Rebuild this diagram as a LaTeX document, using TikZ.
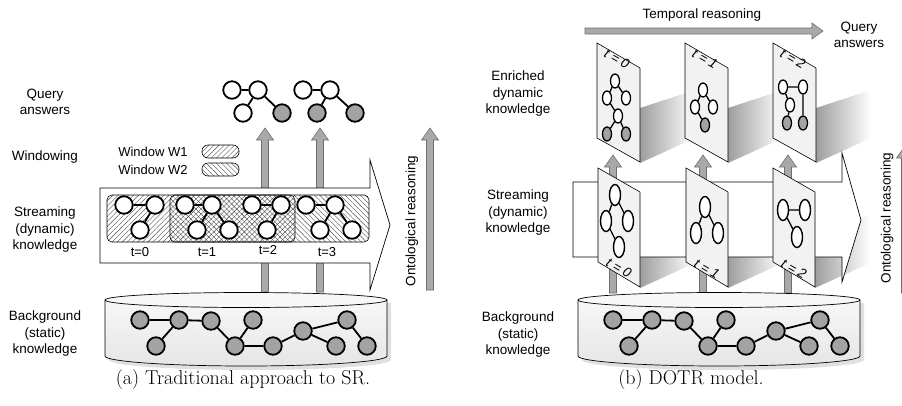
\documentclass[tikz,border=0pt]{standalone}
\usepackage{fontspec}
\newfontfamily\sansf{Liberation Sans}
\usetikzlibrary{shapes.geometric,patterns,patterns.meta}
\definecolor{nodegray}{HTML}{A3A3A3}
\definecolor{arrgray}{HTML}{A9A9A9}
\definecolor{arredge}{HTML}{6E6E6E}
\definecolor{planefill}{HTML}{F2F2F2}
\tikzset{
  lbl/.style={font=\sansf\fontsize{13.5}{16.5}\selectfont, align=center, inner sep=0},
  small/.style={font=\sansf\fontsize{13}{15}\selectfont, inner sep=0},
  tlab/.style={font=\sansf\itshape\fontsize{13.5}{15}\selectfont, inner sep=0, rotate=-30},
  capt/.style={font=\fontsize{20}{24}\selectfont, inner sep=0},
  wn/.style={circle, draw=black, line width=1.8pt, fill=white, minimum size=17.5pt, inner sep=0},
  gn/.style={wn, fill=nodegray},
  en/.style={ellipse, draw=black, line width=1.3pt, fill=white, minimum width=9pt, minimum height=14pt, inner sep=0},
  egn/.style={en, fill=nodegray},
  ln/.style={ellipse, draw=black, line width=1.4pt, fill=white, minimum width=11pt, minimum height=21pt, inner sep=0},
  edge/.style={line width=1.8pt},
  tedge/.style={line width=1.3pt},
  garrow/.style={fill=arrgray, draw=arredge, line width=0.6pt},
  bigarrow/.style={fill=white, draw=black, line width=0.7pt},
  winbox/.style={rounded corners=5pt, draw=black, line width=0.6pt},
  hatchA/.style={pattern={Lines[angle=45, distance=3.6pt, line width=0.4pt]}, pattern color=black!70},
  hatchB/.style={pattern={Lines[angle=-45, distance=3.6pt, line width=0.4pt]}, pattern color=black!70},
  plane/.style={fill=planefill, draw=black, line width=0.6pt},
  shad/.style={left color=black!38, right color=white, draw=none},
  cyl/.style={top color=gray!6, bottom color=gray!20, draw=black, line width=0.7pt},
}
\newcommand\grayup[3]{% x, tip y, bottom y
  \filldraw[garrow] (#1-3.5,#3) -- (#1-3.5,#2+12) -- (#1-8.5,#2+12) -- (#1,#2) -- (#1+8.5,#2+12) -- (#1+3.5,#2+12) -- (#1+3.5,#3) -- cycle;}
\newcommand\cylinder[1]{% left x
  \fill[black!12] (#1+4,303) -- (#1+4,360) arc[start angle=180, end angle=360, x radius=141pt, y radius=10pt] -- (#1+286,303) -- cycle;
  \path[cyl, draw=none] (#1,300) -- (#1,356) arc[start angle=180, end angle=360, x radius=141pt, y radius=10pt] -- (#1+282,300) -- cycle;
  \draw[line width=0.7pt] (#1,300) -- (#1,356) arc[start angle=180, end angle=360, x radius=141pt, y radius=10pt] -- (#1+282,300);
  \filldraw[fill=gray!6, draw=black, line width=0.7pt] (#1+141,300) ellipse [x radius=141pt, y radius=7.5pt];}
\newcommand\bggraph[2]{% x offset, prefix
  \node[gn] (#2a) at (#1+140,320) {};
  \node[gn] (#2b) at (#1+179,320) {};
  \node[gn] (#2c) at (#1+211,321) {};
  \node[gn] (#2d) at (#1+253,320) {};
  \node[gn] (#2e) at (#1+156,346) {};
  \node[gn] (#2f) at (#1+235,346) {};
  \node[gn] (#2g) at (#1+273,346) {};
  \node[gn] (#2h) at (#1+303,331) {};
  \node[gn] (#2i) at (#1+347,320) {};
  \node[gn] (#2j) at (#1+336,346) {};
  \node[gn] (#2k) at (#1+367,346) {};
  \draw[edge] (#2a)--(#2b) (#2b)--(#2c) (#2b)--(#2e) (#2c)--(#2f) (#2d)--(#2f) (#2f)--(#2g) (#2g)--(#2h) (#2h)--(#2i) (#2h)--(#2j) (#2i)--(#2k);}
\newcommand\topplane[1]{\filldraw[plane] (#1,43) -- (#1+43,68) -- (#1+43,162) -- (#1,138) -- cycle;}
\newcommand\lowplane[1]{\filldraw[plane] (#1,168) -- (#1+42,192) -- (#1+42,287) -- (#1,262) -- cycle;}
\newcommand\topshadow[1]{\shade[shad] (#1+43,163) -- (#1+43,108) -- (#1+98,90) -- (#1+98,138) -- cycle;}
\newcommand\lowshadow[1]{\shade[shad] (#1+42,288) -- (#1+42,233) -- (#1+97,215) -- (#1+97,263) -- cycle;}
\begin{document}
\begin{tikzpicture}[x=1pt, y=-1pt]
\useasboundingbox (0,0) rectangle (902,405);
\begin{scope}
\clip (0,0) rectangle (902,405);
% ================= (a) =================
\node[lbl] (qa) at (45,102) {Query\\answers};
\node[lbl] (wa) at (45,157) {Windowing};
\node[lbl] (sa) at (45,230) {Streaming\\(dynamic)\\knowledge};
\node[lbl] (ba) at (45,334) {Background\\(static)\\knowledge};
% legend
\node[small] (lw1) at (153,152) {Window W1};
\node[small] (lw2) at (153,170) {Window W2};
\draw[winbox, rounded corners=6pt, hatchA] (202,145) rectangle (239,158);
\draw[winbox, rounded corners=6pt, hatchB] (202,163) rectangle (239,176);
% gray arrows
\grayup{265}{128}{292}
\grayup{320}{128}{292}
\grayup{430}{128}{290}
\node[lbl, rotate=90] (oa) at (412,221) {Ontological reasoning};
% streaming arrow
\filldraw[bigarrow] (100,188) -- (370,188) -- (370,160) -- (390,225) -- (370,290) -- (370,263) -- (100,263) -- cycle;
% windows
\draw[winbox, hatchA] (107,195) rectangle (295,242);
\draw[winbox, hatchB] (170,195) rectangle (369,242);
% stream graphs
\node[wn] (s0a) at (124,205) {};
\node[wn] (s0b) at (155,205) {};
\node[wn] (s0c) at (140,230) {};
\draw[edge] (s0a)--(s0b) (s0b)--(s0c);
\node[wn] (s1a) at (185,205) {};
\node[wn] (s1b) at (212,205) {};
\node[wn] (s1c) at (197,230) {};
\node[wn] (s1d) at (229,230) {};
\draw[edge] (s1a)--(s1b) (s1b)--(s1c) (s1b)--(s1d);
\node[wn] (s2a) at (252,205) {};
\node[wn] (s2b) at (281,205) {};
\node[wn] (s2c) at (267,230) {};
\draw[edge] (s2a)--(s2b) (s2b)--(s2c);
\node[wn] (s3a) at (306,205) {};
\node[wn] (s3b) at (335,205) {};
\node[wn] (s3c) at (320,230) {};
\node[wn] (s3d) at (352,230) {};
\draw[edge] (s3a)--(s3b) (s3b)--(s3c) (s3b)--(s3d);
\node[small] (t0) at (140,252) {t=0};
\node[small] (t1) at (207,252) {t=1};
\node[small] (t2) at (268,250) {t=2};
\node[small] (t3) at (327,252) {t=3};
% query answers
\node[wn] (q1a) at (232,90) {};
\node[wn] (q1b) at (258,90) {};
\node[wn] (q1c) at (243,113) {};
\node[gn] (q1d) at (282,113) {};
\draw[edge] (q1a)--(q1b) (q1b)--(q1c) (q1b)--(q1d);
\node[wn] (q2a) at (303,90) {};
\node[wn] (q2b) at (330,90) {};
\node[gn] (q2c) at (317,113) {};
\node[gn] (q2d) at (355,113) {};
\draw[edge] (q2a)--(q2b) (q2b)--(q2c) (q2b)--(q2d);
% cylinder
\cylinder{105}
\bggraph{0}{ga}
\node[capt] (capa) at (243,380) {(a) Traditional approach to SR.};
% ================= (b) =================
\node[lbl] (eb) at (518,94) {Enriched\\dynamic\\knowledge};
\node[lbl] (sb) at (518,213) {Streaming\\(dynamic)\\knowledge};
\node[lbl] (bb) at (518,335) {Background\\(static)\\knowledge};
\node[lbl] (trb) at (702,15) {Temporal reasoning};
\node[lbl] (qb) at (859,35) {Query\\answers};
\filldraw[garrow] (585,28) -- (812,28) -- (812,23) -- (823,31) -- (812,39) -- (812,34) -- (585,34) -- cycle;
% shadows
\topshadow{597}\topshadow{685}\topshadow{773}
\lowshadow{598}\lowshadow{686}\lowshadow{773}
% vertical arrows
\grayup{613}{155}{293}
\grayup{703}{155}{293}
\grayup{788}{155}{293}
\grayup{905}{146}{293}
\node[lbl, rotate=90] (ob) at (887,218) {Ontological reasoning};
% streaming arrow
\filldraw[bigarrow] (573,182) -- (842,182) -- (842,153) -- (861,220) -- (842,282) -- (842,257) -- (573,257) -- cycle;
% lower planes
\lowplane{598}\lowplane{686}\lowplane{773}
\node[ln] (l0a) at (615,195) {};
\node[ln] (l0b) at (606,221) {};
\node[ln] (l0c) at (628,221) {};
\node[ln] (l0d) at (619,247) {};
\draw[tedge] (l0a)--(l0b) (l0a)--(l0c) (l0b)--(l0d);
\node[ln] (l1a) at (705,207) {};
\node[ln] (l1b) at (696,233) {};
\node[ln] (l1c) at (718,233) {};
\draw[tedge] (l1a)--(l1b) (l1a)--(l1c);
\node[ln] (l2a) at (783,210) {};
\node[ln] (l2b) at (805,210) {};
\node[ln] (l2c) at (797,237) {};
\draw[tedge] (l2a)--(l2b) (l2a)--(l2c);
\node[tlab] (lt0) at (619,268) {t = 0};
\node[tlab] (lt1) at (707,269) {t = 1};
\node[tlab] (lt2) at (794,269) {t = 2};
% top planes
\topplane{597}\topplane{685}\topplane{773}
\node[tlab] (ut0) at (617,59) {t = 0};
\node[tlab] (ut1) at (705,59) {t = 1};
\node[tlab] (ut2) at (793,59) {t = 2};
\node[en] (u0a) at (615,81) {};
\node[en] (u0b) at (607,98) {};
\node[en] (u0c) at (626,98) {};
\node[en] (u0d) at (618,116) {};
\node[egn] (u0e) at (607,134) {};
\node[egn] (u0f) at (626,134) {};
\draw[tedge] (u0a)--(u0b) (u0a)--(u0c) (u0b)--(u0d) (u0d)--(u0e) (u0d)--(u0f);
\node[en] (u1a) at (703,90) {};
\node[en] (u1b) at (695,107) {};
\node[en] (u1c) at (713,107) {};
\node[egn] (u1d) at (705,125) {};
\draw[tedge] (u1a)--(u1b) (u1a)--(u1c) (u1b)--(u1d);
\node[en] (u2a) at (783,87) {};
\node[en] (u2b) at (803,87) {};
\node[en] (u2c) at (790,105) {};
\node[egn] (u2d) at (787,123) {};
\node[egn] (u2e) at (803,123) {};
\draw[tedge] (u2a)--(u2b) (u2a)--(u2c) (u2c)--(u2d) (u2b)--(u2e);
% cylinder
\cylinder{578}
\bggraph{473}{gb}
\node[capt] (capb) at (691,380) {(b) DOTR model.};
\end{scope}
\end{tikzpicture}
\end{document}
